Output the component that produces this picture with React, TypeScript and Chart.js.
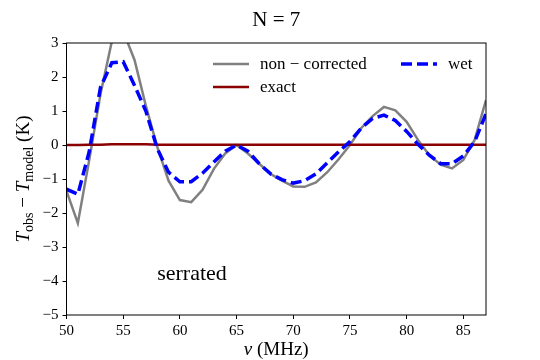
import React, { useEffect, useRef } from "react";
import { Chart, registerables } from "chart.js";

Chart.register(...registerables);

const freq = [50, 51, 52, 53, 54, 55, 56, 57, 58, 59, 60, 61, 62, 63, 64, 65, 66, 67, 68, 69, 70, 71, 72, 73, 74, 75, 76, 77, 78, 79, 80, 81, 82, 83, 84, 85, 86, 87];
const nonCorrected = [-1.35, -2.3, -0.45, 1.5, 3.05, 3.35, 2.5, 1.15, -0.05, -1.05, -1.62, -1.68, -1.32, -0.7, -0.25, 0.0, -0.25, -0.55, -0.85, -1.05, -1.22, -1.23, -1.1, -0.8, -0.42, 0.0, 0.5, 0.85, 1.12, 1.02, 0.68, 0.15, -0.3, -0.58, -0.69, -0.44, 0.15, 1.32];
const wet = [-1.3, -1.45, -0.2, 1.7, 2.42, 2.45, 1.75, 1.0, -0.1, -0.8, -1.08, -1.08, -0.83, -0.5, -0.18, 0.0, -0.18, -0.55, -0.85, -1.02, -1.12, -1.05, -0.85, -0.52, -0.2, 0.1, 0.5, 0.78, 0.88, 0.72, 0.4, 0.02, -0.3, -0.55, -0.55, -0.32, 0.1, 0.92];
const exact = [0.0, 0.0, 0.01, 0.01, 0.02, 0.02, 0.02, 0.02, 0.01, 0.01, 0.01, 0.01, 0.01, 0.01, 0.01, 0.01, 0.01, 0.01, 0.01, 0.01, 0.01, 0.01, 0.01, 0.01, 0.01, 0.01, 0.01, 0.01, 0.01, 0.01, 0.01, 0.01, 0.01, 0.01, 0.01, 0.01, 0.01, 0.01];
const xTicks = [50, 55, 60, 65, 70, 75, 80, 85];
const yTicks = [-5, -4, -3, -2, -1, 0, 1, 2, 3];

const SERIF = '"Liberation Serif", "DejaVu Serif", serif';
const GREY = "#808080";
const RED = "#8b0000";
const BLUE = "#0000ff";

const fmt = (v: number) => (v < 0 ? "\u2212" + Math.abs(v) : String(v));

const decorPlugin = {
  id: "decor",
  afterDatasetsDraw(chart: any) {
    const { ctx, chartArea: a, scales } = chart;
    ctx.save();
    // frame
    ctx.strokeStyle = "#000";
    ctx.lineWidth = 1;
    ctx.strokeRect(a.left, a.top, a.right - a.left, a.bottom - a.top);

    ctx.fillStyle = "#000";
    // title
    ctx.font = `21px ${SERIF}`;
    ctx.textAlign = "center";
    ctx.textBaseline = "middle";
    ctx.fillText("N = 7", (a.left + a.right) / 2, 20);

    // x label
    const cx = (a.left + a.right) / 2;
    ctx.textAlign = "left";
    ctx.textBaseline = "alphabetic";
    ctx.font = `italic 19px ${SERIF}`;
    const w1 = ctx.measureText("\u03bd").width;
    ctx.font = `19px ${SERIF}`;
    const w2 = ctx.measureText(" (MHz)").width;
    const sx = cx - (w1 + w2) / 2;
    ctx.font = `italic 19px ${SERIF}`;
    ctx.fillText("\u03bd", sx, 355);
    ctx.font = `19px ${SERIF}`;
    ctx.fillText(" (MHz)", sx + w1, 355);

    // y label
    const pieces: [string, string, number][] = [
      ["T", `italic 19px ${SERIF}`, 0],
      ["obs", `14px ${SERIF}`, 4],
      [" \u2212 ", `19px ${SERIF}`, 0],
      ["T", `italic 19px ${SERIF}`, 0],
      ["model", `14px ${SERIF}`, 4],
      [" (K)", `19px ${SERIF}`, 0],
    ];
    let total = 0;
    const widths = pieces.map(([t, f]) => {
      ctx.font = f;
      const w = ctx.measureText(t).width;
      total += w;
      return w;
    });
    ctx.translate(29, (a.top + a.bottom) / 2);
    ctx.rotate(-Math.PI / 2);
    let px = -total / 2;
    pieces.forEach(([t, f, off], i) => {
      ctx.font = f;
      ctx.fillText(t, px, off);
      px += widths[i];
    });
    ctx.restore();

    // annotation
    ctx.save();
    ctx.fillStyle = "#000";
    ctx.font = `22px ${SERIF}`;
    ctx.textAlign = "left";
    ctx.textBaseline = "alphabetic";
    ctx.fillText("serrated", scales.x.getPixelForValue(58), scales.y.getPixelForValue(-3.97));

    // legend
    ctx.font = `17px ${SERIF}`;
    ctx.textBaseline = "middle";
    const drawItem = (x0: number, y0: number, color: string, lw: number, dash: number[], label: string) => {
      ctx.beginPath();
      ctx.setLineDash(dash);
      ctx.strokeStyle = color;
      ctx.lineWidth = lw;
      ctx.moveTo(x0, y0);
      ctx.lineTo(x0 + 36, y0);
      ctx.stroke();
      ctx.setLineDash([]);
      ctx.fillStyle = "#000";
      ctx.fillText(label, x0 + 47, y0 + 1);
    };
    drawItem(213, 64, GREY, 2.5, [], "non \u2212 corrected");
    drawItem(213, 87, RED, 2.5, [], "exact");
    drawItem(401, 64, BLUE, 3.5, [11, 5], "wet");
    ctx.restore();
  },
};

export default function App() {
  const ref = useRef<HTMLCanvasElement>(null);
  useEffect(() => {
    if (!ref.current) return;
    const chart = new Chart(ref.current, {
      type: "line",
      data: {
        datasets: [
          {
            label: "non \u2212 corrected",
            data: freq.map((x, i) => ({ x, y: nonCorrected[i] })),
            borderColor: GREY,
            borderWidth: 2.5,
            pointRadius: 0,
            tension: 0,
            order: 3,
          },
          {
            label: "exact",
            data: freq.map((x, i) => ({ x, y: exact[i] })),
            borderColor: RED,
            borderWidth: 2.5,
            pointRadius: 0,
            tension: 0,
            order: 2,
          },
          {
            label: "wet",
            data: freq.map((x, i) => ({ x, y: wet[i] })),
            borderColor: BLUE,
            borderWidth: 3.5,
            borderDash: [11, 5],
            pointRadius: 0,
            tension: 0,
            order: 1,
          },
        ],
      },
      options: {
        animation: false,
        responsive: false,
        events: [],
        layout: { padding: { top: 43, right: 54, left: 0, bottom: 0 } },
        plugins: { legend: { display: false }, tooltip: { enabled: false }, title: { display: false } },
        scales: {
          x: {
            type: "linear",
            min: 50,
            max: 87,
            afterBuildTicks: (s: any) => {
              s.ticks = xTicks.map((value) => ({ value }));
            },
            afterFit: (s: any) => {
              s.height = 45;
            },
            grid: { drawOnChartArea: false, drawTicks: true, tickLength: 4, color: "#000", lineWidth: 1 },
            border: { display: false },
            ticks: { font: { family: SERIF, size: 15 }, color: "#000", padding: 3, maxRotation: 0, callback: (v: any) => fmt(Number(v)) },
          },
          y: {
            type: "linear",
            min: -5,
            max: 3,
            afterBuildTicks: (s: any) => {
              s.ticks = yTicks.map((value) => ({ value }));
            },
            afterFit: (s: any) => {
              s.width = 66.5;
            },
            grid: { drawOnChartArea: false, drawTicks: true, tickLength: 4, color: "#000", lineWidth: 1 },
            border: { display: false },
            ticks: { font: { family: SERIF, size: 15 }, color: "#000", padding: 4, callback: (v: any) => fmt(Number(v)) },
          },
        },
      },
      plugins: [decorPlugin],
    } as any);
    return () => chart.destroy();
  }, []);
  return (
    <div style={{ position: "fixed", left: 0, top: 0, width: 540, height: 360, background: "#fff" }}>
      <canvas ref={ref} width={540} height={360} style={{ display: "block" }} />
    </div>
  );
}
